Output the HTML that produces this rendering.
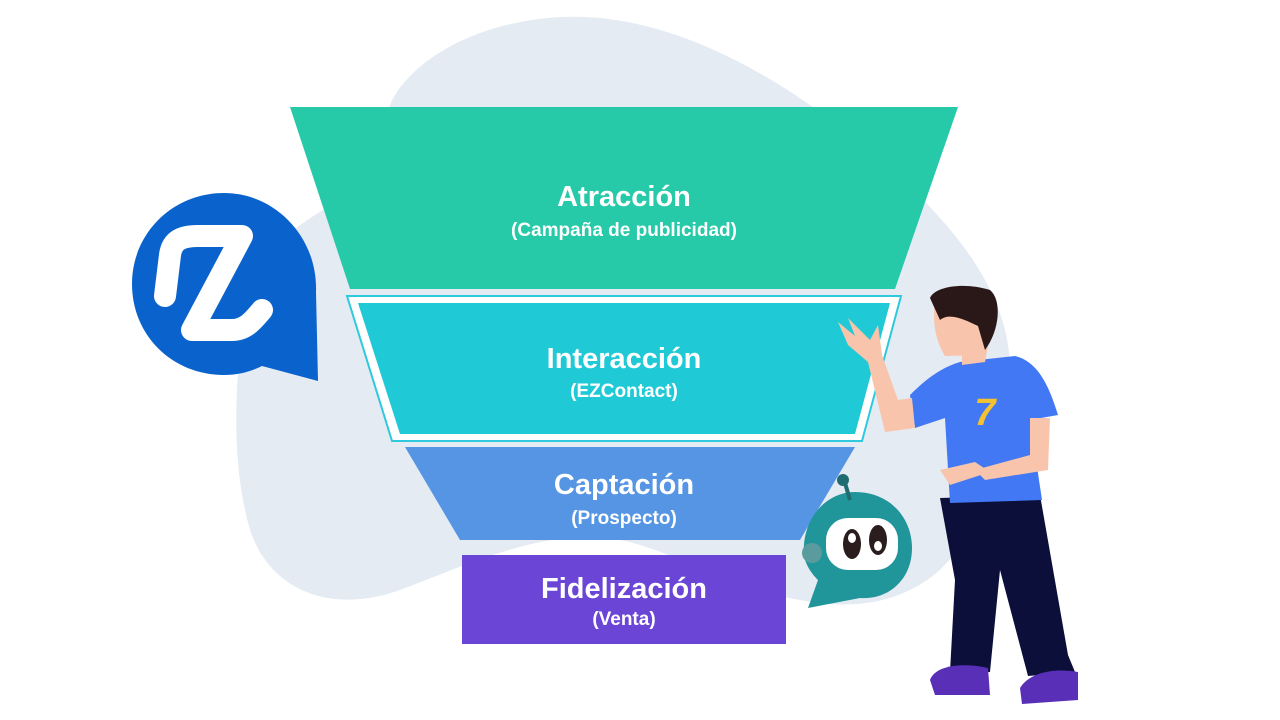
<!DOCTYPE html>
<html><head><meta charset="utf-8">
<style>
html,body{margin:0;padding:0;background:#fff;}
svg{display:block}
text{font-family:"Liberation Sans",sans-serif;font-weight:bold;fill:#fff;text-anchor:middle}
</style></head>
<body>
<svg width="1280" height="720" viewBox="0 0 1280 720" xmlns="http://www.w3.org/2000/svg">
<path d="M395,95 C430,40 520,10 600,18 C700,28 800,90 880,160 C950,220 1010,290 1010,370 C1010,450 990,520 940,570 C900,605 850,610 800,600 C740,590 690,560 640,545 C560,520 480,560 400,590 C330,615 270,590 250,530 C230,460 235,380 245,310 C255,250 300,220 360,190 C380,160 380,120 395,95 Z" fill="#e5ebf3"/>
<polygon points="290,107 958,107 895,289 350,289" fill="#26c9a8"/>
<polygon points="347,296 901,296 862,441 392,441" fill="#fff" stroke="#2ec9dc" stroke-width="2"/>
<polygon points="358,303 890,303 855,434 400,434" fill="#20c9d6"/>
<polygon points="405,447 855,447 800,540 460,540" fill="#5595e3"/>
<rect x="462" y="555" width="324" height="89" fill="#6a45d6"/>
<text x="624" y="206" font-size="29">Atracción</text>
<text x="624" y="236" font-size="19">(Campaña de publicidad)</text>
<text x="624" y="368" font-size="29">Interacción</text>
<text x="624" y="397" font-size="19">(EZContact)</text>
<text x="624" y="494" font-size="29">Captación</text>
<text x="624" y="524" font-size="19">(Prospecto)</text>
<text x="624" y="598" font-size="29">Fidelización</text>
<text x="624" y="625" font-size="19">(Venta)</text>
<!-- EZ logo -->
<path d="M224,193 C276,193 318,238 316,292 L318,381 L262,366 C250,372 238,375 224,375 C172,375 132,335 132,284 C132,234 172,193 224,193 Z" fill="#0a63cc"/>
<path d="M165,296 L170,255 C172,240 182,236 198,236 L242,236 L192,330 L232,330 C245,330 252,322 262,310" fill="none" stroke="#fff" stroke-width="22" stroke-linejoin="round" stroke-linecap="round"/>
<!-- robot -->
<path d="M855,492 C890,492 912,518 912,548 C912,580 888,600 860,598 L808,608 L818,580 C808,570 802,558 804,545 C806,515 828,492 855,492 Z" fill="#20959a"/>
<line x1="845" y1="483" x2="850" y2="500" stroke="#1f6d70" stroke-width="4"/>
<circle cx="843" cy="480" r="6" fill="#1f6d70"/>
<circle cx="812" cy="553" r="10" fill="#5a9c9e"/>
<rect x="826" y="518" width="72" height="52" rx="22" fill="#fff"/>
<ellipse cx="852" cy="544" rx="9" ry="15" fill="#2b1d1d"/>
<ellipse cx="878" cy="540" rx="9" ry="15" fill="#2b1d1d"/>
<ellipse cx="852" cy="538" rx="4" ry="5" fill="#fff"/>
<ellipse cx="878" cy="546" rx="4" ry="5" fill="#fff"/>
<!-- person -->
<path d="M940,498 L1040,495 L1068,655 L1075,672 L1028,676 L1000,570 L990,672 L950,672 L955,580 Z" fill="#0b0f3a"/>
<path d="M930,680 C935,666 960,662 988,668 L990,695 L935,695 Z" fill="#5a2fb8"/>
<path d="M1020,688 C1030,672 1055,668 1078,672 L1078,700 L1022,704 Z" fill="#5a2fb8"/>
<path d="M960,362 L1015,356 C1040,362 1050,390 1058,415 L1030,420 L1042,500 L950,503 L945,418 L915,428 L910,395 C925,380 940,368 960,362 Z" fill="#4278f3"/>
<text x="985" y="425" font-size="38" style="fill:#f2c230;font-style:italic">7</text>
<path d="M1030,418 L1050,418 L1048,470 L985,480 L975,470 L1030,455 Z" fill="#f8c4ac"/>
<path d="M940,470 L975,462 L990,472 L950,485 Z" fill="#f8c4ac"/>
<path d="M915,428 L885,432 L868,362 L848,345 L838,322 L855,336 L848,318 L870,340 L878,325 L882,355 L898,400 L912,398 Z" fill="#f8c4ac"/>
<path d="M962,338 L990,335 L985,362 L962,365 Z" fill="#f8c4ac"/>
<path d="M935,300 C955,295 985,300 990,320 L985,355 L945,356 C935,340 932,320 935,300 Z" fill="#f8c4ac"/>
<path d="M930,298 C935,286 965,282 990,290 C1002,300 1000,330 985,350 L978,326 C965,320 950,312 940,320 Z" fill="#2a1818"/>
</svg>
</body></html>
